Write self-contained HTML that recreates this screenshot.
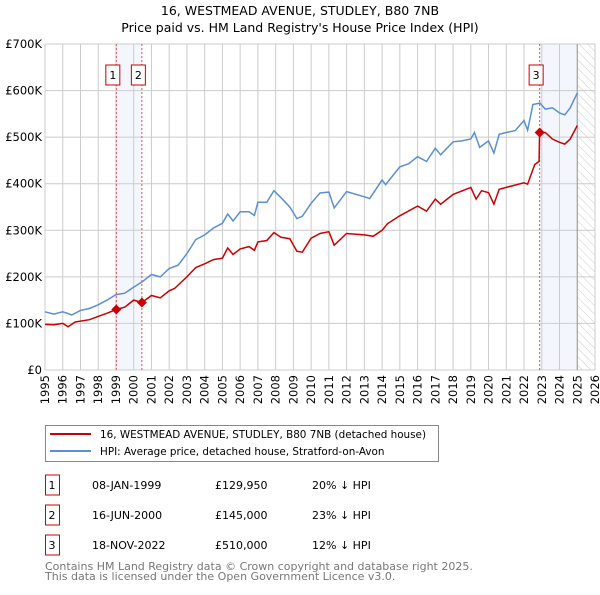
<!DOCTYPE html>
<html><head><meta charset="utf-8"><style>
body{margin:0;background:#fff;}
svg text{font-family:"DejaVu Sans","Liberation Sans",sans-serif;}
</style></head><body>
<svg id="chart" width="600" height="590" xmlns="http://www.w3.org/2000/svg">
<text x="300" y="15" text-anchor="middle" font-size="12.5">16, WESTMEAD AVENUE, STUDLEY, B80 7NB</text>
<text x="300" y="32" text-anchor="middle" font-size="12.5">Price paid vs. HM Land Registry's House Price Index (HPI)</text>
<defs><pattern id="hatch" width="6" height="6" patternUnits="userSpaceOnUse" patternTransform="rotate(-45)"><line x1="0" y1="0" x2="0" y2="6" stroke="#ccc" stroke-width="1"/></pattern></defs>
<g id="grid"></g>
<g id="marks"></g>
<g>
<rect x="45.5" y="425.5" width="393" height="36" fill="#fff" stroke="#888"/>
<line x1="50" y1="434" x2="91" y2="434" stroke="#cc0000" stroke-width="2"/>
<text x="100" y="438" font-size="10.4">16, WESTMEAD AVENUE, STUDLEY, B80 7NB (detached house)</text>
<line x1="50" y1="451" x2="91" y2="451" stroke="#5b8fd4" stroke-width="2"/>
<text x="100" y="455" font-size="10.4">HPI: Average price, detached house, Stratford-on-Avon</text>
</g>
<g id="table" font-size="11"></g>
<text x="45" y="570" font-size="11" fill="#777">Contains HM Land Registry data © Crown copyright and database right 2025.</text>
<text x="45" y="580" font-size="11" fill="#777">This data is licensed under the Open Government Licence v3.0.</text>
</svg>
<script>
const yTicks=[0,100000,200000,300000,400000,500000,600000,700000];
const yTickLabels=["£0","£100K","£200K","£300K","£400K","£500K","£600K","£700K"];
const years=[1995,1996,1997,1998,1999,2000,2001,2002,2003,2004,2005,2006,2007,2008,2009,2010,2011,2012,2013,2014,2015,2016,2017,2018,2019,2020,2021,2022,2023,2024,2025,2026];
const hpiT=[1995,1995.5,1996,1996.3,1996.5,1997,1997.5,1998,1998.5,1999,1999.5,2000,2000.5,2001,2001.5,2002,2002.5,2003,2003.5,2004,2004.5,2005,2005.3,2005.6,2006,2006.5,2006.8,2007,2007.5,2007.9,2008.3,2008.8,2009.2,2009.5,2010,2010.5,2011,2011.3,2012,2013,2013.3,2014,2014.2,2015,2015.5,2016,2016.5,2017,2017.3,2018,2018.5,2019,2019.2,2019.5,2020,2020.3,2020.6,2021,2021.5,2022,2022.2,2022.5,2022.9,2023.2,2023.6,2024,2024.3,2024.6,2025];
const hpiV=[125,120,125,121,118,128,132,140,150,162,165,178,190,205,200,218,225,250,280,290,305,315,335,320,340,340,332,360,360,385,370,350,325,330,358,380,382,348,383,372,368,408,398,436,443,458,448,476,462,490,492,496,510,478,492,466,506,510,514,536,515,570,573,560,563,552,548,563,595];
const ppT=[1995,1995.5,1996,1996.3,1996.7,1997.5,1998,1998.5,1999.02,1999.5,2000,2000.46,2001,2001.5,2002,2002.3,2003,2003.5,2004,2004.5,2005,2005.3,2005.6,2006,2006.5,2006.8,2007,2007.5,2007.9,2008.3,2008.8,2009.2,2009.5,2010,2010.5,2011,2011.3,2012,2013,2013.5,2014,2014.3,2015,2016,2016.5,2017,2017.3,2018,2019,2019.3,2019.6,2020,2020.3,2020.6,2021,2022,2022.2,2022.6,2022.85,2022.88,2023.2,2023.6,2024,2024.3,2024.6,2025];
const ppV=[98,97,100,93,103,108,115,122,130,135,150,145,160,155,170,175,200,220,228,237,240,262,248,260,265,257,275,278,295,285,282,255,253,283,293,297,268,293,290,287,300,314,331,352,341,367,356,377,392,367,385,381,356,388,392,402,399,441,448,510,510,496,489,485,496,525];
const saleDates=[1999.02,2000.46,2022.88];
const saleLabels=["1","2","3"];
const salePrices=[129950,145000,510000];
const saleDateText=["08-JAN-1999","16-JUN-2000","18-NOV-2022"];
const salePriceText=["£129,950","£145,000","£510,000"];
const saleHpiText=["20% ↓ HPI","23% ↓ HPI","12% ↓ HPI"];

const X0=45,X1=595,Y0=370,Y1=44;
const x=t=>X0+(t-1995)/(2026-1995)*(X1-X0);
const y=v=>Y0-v/700000*(Y0-Y1);
const NS="http://www.w3.org/2000/svg";
function mk(tag,attrs,parent){const e=document.createElementNS(NS,tag);for(const k in attrs)e.setAttribute(k,attrs[k]);parent.appendChild(e);return e;}
const grid=document.getElementById('grid'),marks=document.getElementById('marks');
let r=mk('rect',{x:x(saleDates[0]),y:Y1,width:x(saleDates[1])-x(saleDates[0]),height:Y0-Y1,fill:'#eef3fc',opacity:0.7},grid);


r=mk('rect',{x:x(saleDates[2]),y:Y1,width:x(2025)-x(saleDates[2]),height:Y0-Y1,fill:'#eef3fc',opacity:0.7},grid);


r=mk('rect',{x:x(2025),y:Y1,width:X1-x(2025),height:Y0-Y1,fill:'url(#hatch)'},grid);


years.forEach(yr=>{
  const l=mk('line',{x1:x(yr),x2:x(yr),y1:Y1,y2:Y0,stroke:'#ccc','stroke-width':1},grid);
  
  
  const tx=x(yr)+4,ty=Y0+5;
  const t=mk('text',{x:tx,y:ty,'font-size':11.5,transform:`rotate(-90 ${tx} ${ty})`,'text-anchor':'end'},grid);
  t.textContent=yr;
  
  
});
yTicks.forEach((v,i)=>{
  const l=mk('line',{x1:X0,x2:X1,y1:y(v),y2:y(v),stroke:'#ccc','stroke-width':1},grid);
  
  
  const t=mk('text',{x:X0-3,y:y(v)+4,'font-size':11.5,'text-anchor':'end'},grid);
  t.textContent=yTickLabels[i];
  
  
});
let vl=mk('line',{x1:x(2025),x2:x(2025),y1:Y1,y2:Y0,stroke:'#999','stroke-width':1},grid);


saleDates.forEach((d,i)=>{
  const l=mk('line',{x1:x(d),x2:x(d),y1:Y1,y2:Y0,stroke:'#e05050','stroke-width':1,'stroke-dasharray':'2,2'},marks);
  
  
});
function path(ts,vs,mul){return ts.map((t,i)=>(i?'L':'M')+x(t).toFixed(1)+','+y(vs[i]*mul).toFixed(1)).join('');}
let p=mk('path',{d:path(hpiT,hpiV,1000),fill:'none',stroke:'#5b8fd4','stroke-width':1.5},marks);


p=mk('path',{d:path(ppT,ppV,1000),fill:'none',stroke:'#cc0000','stroke-width':1.5},marks);


saleDates.forEach((d,i)=>{
  const cx=x(d),cy=y(salePrices[i]);
  const m=mk('path',{d:`M${cx},${cy-5}L${cx+5},${cy}L${cx},${cy+5}L${cx-5},${cy}Z`,fill:'#cc0000'},marks);
  
  
  const g=mk('g',{},marks);
  
  
  const bc=cx-3.5;
  mk('rect',{x:bc-7,y:65,width:14,height:20,fill:'#fff',stroke:'#cc0000'},g);
  const tt=mk('text',{x:bc,y:79,'font-size':11,'text-anchor':'middle'},g);
  tt.textContent=saleLabels[i];
});
const table=document.getElementById('table');
saleLabels.forEach((lab,i)=>{
  const cy=485+i*30;
  const g=mk('g',{},table);
  
  
  mk('rect',{x:45.5,y:cy-10,width:14,height:20,fill:'#fff',stroke:'#cc0000'},g);
  const cells=[[52,lab],[92,saleDateText[i]],[215,salePriceText[i]],[312,saleHpiText[i]]];
  cells.forEach((c,j)=>{const t=mk('text',{x:c[0],y:cy+4,'text-anchor':j==0?'middle':'start'},g);t.textContent=c[1];});
});
</script>
</body></html>
